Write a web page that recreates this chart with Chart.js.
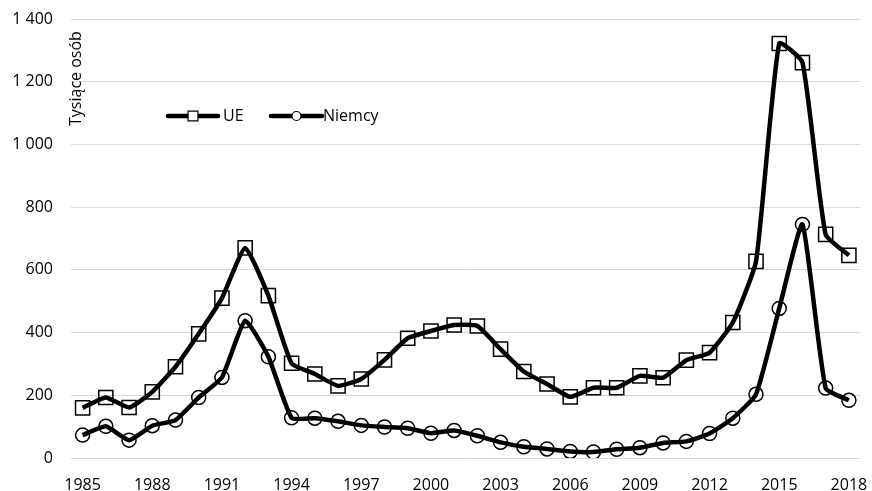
<!DOCTYPE html>
<html>
<head>
<meta charset="utf-8">
<script src="https://cdn.jsdelivr.net/npm/chart.js@4/dist/chart.umd.min.js"></script>
<style>
  html, body { margin: 0; padding: 0; background: #fff; }
  #wrap { width: 872px; height: 491px; position: relative; }
</style>
</head>
<body>
<div id="wrap"><canvas id="chart"></canvas></div>
<script>
const years = [];
for (let y = 1985; y <= 2018; y++) years.push(String(y));

const ueValues = [160, 193, 161, 211, 291, 396, 510, 670, 518, 302, 268, 230, 252, 313, 382, 405, 424, 421, 347, 276, 236, 195,
  224, 224, 262, 256, 312, 336, 432, 627, 1322, 1261, 713, 646];
const niemcyValues = [73, 101, 57, 103, 121, 193, 257, 438, 323, 128, 127, 117, 104, 99, 95, 79, 88, 71, 50, 36, 29, 21,
  19, 28, 33, 48, 53, 78, 127, 203, 477, 745, 223, 184];

const seriesNames = ["UE", "Niemcy"];
const axisTitle = "Tysiące osób";
const FONT = "'Open Sans', sans-serif";

function fmt(v) {
  return String(v).replace(/\B(?=(\d{3})+(?!\d))/g, " ");
}

// axis title and legend sit inside the plot area, so draw them by hand
const overlay = {
  id: "overlay",
  afterDraw(chart) {
    const ctx = chart.ctx;
    ctx.save();
    ctx.fillStyle = "#000";
    ctx.font = "16px " + FONT;
    ctx.textBaseline = "middle";

    ctx.save();
    ctx.translate(76, 126);
    ctx.rotate(-Math.PI / 2);
    ctx.textAlign = "left";
    ctx.fillText(axisTitle, 0, 0);
    ctx.restore();

    const items = [
      { x0: 168, x1: 218, tx: 223, style: "rect", r: 7 },
      { x0: 271, x1: 322, tx: 323, style: "circle", r: 4.5 }
    ];
    const ly = 116;
    items.forEach((it, i) => {
      ctx.strokeStyle = "#000";
      ctx.lineWidth = 4.5;
      ctx.lineCap = "round";
      ctx.beginPath();
      ctx.moveTo(it.x0, ly);
      ctx.lineTo(it.x1, ly);
      ctx.stroke();
      ctx.lineWidth = 1.2;
      ctx.fillStyle = "#fff";
      Chart.helpers.drawPoint(ctx, { pointStyle: it.style, radius: it.r, rotation: 0, borderWidth: 1.2 },
        (it.x0 + it.x1) / 2, ly);
      ctx.fillStyle = "#000";
      ctx.textAlign = "left";
      ctx.fillText(seriesNames[i], it.tx, ly);
    });
    ctx.restore();
  }
};

new Chart(document.getElementById("chart"), {
  type: "line",
  data: {
    labels: years,
    datasets: [
      {
        label: seriesNames[0],
        data: ueValues,
        borderColor: "#000",
        borderWidth: 4.5,
        tension: 0.15,
        pointStyle: "rect",
        pointRadius: 10,
        pointBorderWidth: 1.5,
        pointBorderColor: "#000",
        pointBackgroundColor: "rgba(0,0,0,0)"
      },
      {
        label: seriesNames[1],
        data: niemcyValues,
        borderColor: "#000",
        borderWidth: 4.5,
        tension: 0.15,
        pointStyle: "circle",
        pointRadius: 7,
        pointBorderWidth: 1.5,
        pointBorderColor: "#000",
        pointBackgroundColor: "rgba(0,0,0,0)"
      }
    ]
  },
  options: {
    responsive: true,
    maintainAspectRatio: false,
    animation: false,
    layout: { padding: { left: 0, right: 10, top: 19, bottom: 0 } },
    plugins: {
      legend: { display: false },
      tooltip: { enabled: false }
    },
    scales: {
      x: {
        offset: true,
        grid: { display: false, offset: true },
        border: { display: false },
        afterFit(scale) {
          scale.height = 33;
          scale.paddingLeft = 0;
          scale.paddingRight = 0;
        },
        ticks: {
          autoSkip: false,
          maxRotation: 0,
          color: "#000",
          padding: 10,
          font: { family: FONT, size: 16 },
          callback(val, idx) {
            return idx % 3 === 0 ? this.getLabelForValue(val) : "";
          }
        }
      },
      y: {
        min: 0,
        max: 1400,
        afterFit(scale) {
          scale.width = 71;
          scale.paddingTop = 0;
          scale.paddingBottom = 0;
        },
        grid: { color: "#d9d9d9", lineWidth: 1, drawTicks: false },
        border: { display: false },
        ticks: {
          stepSize: 200,
          color: "#000",
          padding: 18,
          font: { family: FONT, size: 16 },
          callback(v) { return fmt(v); }
        }
      }
    }
  },
  plugins: [overlay]
});
</script>
</body>
</html>
